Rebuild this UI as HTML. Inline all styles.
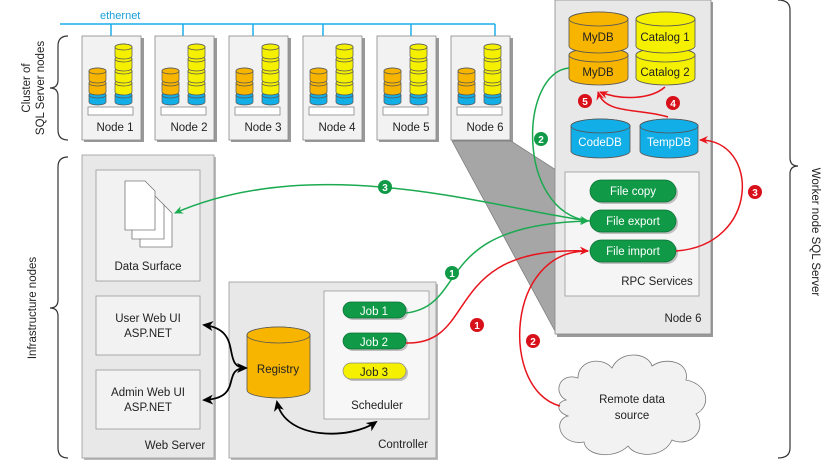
<!DOCTYPE html>
<html><head><meta charset="utf-8"><style>
html,body{margin:0;padding:0;background:#fff;}
svg{display:block;font-family:"Liberation Sans",sans-serif;}
</style></head><body>
<svg width="830" height="475" viewBox="0 0 830 475" xmlns="http://www.w3.org/2000/svg">
<defs>
<g id="sy"><path d="M0,3 a8.5,3 0 0 1 17,0 v9 a8.5,3 0 0 1 -17,0 z" fill="#f5f000" stroke="#555" stroke-width="0.7"/><ellipse cx="8.5" cy="3" rx="8.5" ry="3" fill="#f5f000" stroke="#555" stroke-width="0.7"/></g>
<g id="so"><path d="M0,3 a8.5,3 0 0 1 17,0 v9 a8.5,3 0 0 1 -17,0 z" fill="#f7b500" stroke="#555" stroke-width="0.7"/><ellipse cx="8.5" cy="3" rx="8.5" ry="3" fill="#f7b500" stroke="#555" stroke-width="0.7"/></g>
<g id="sb"><path d="M0,3 a8.5,3 0 0 1 17,0 v7 a8.5,3 0 0 1 -17,0 z" fill="#12aee8" stroke="#555" stroke-width="0.7"/><ellipse cx="8.5" cy="3" rx="8.5" ry="3" fill="#12aee8" stroke="#555" stroke-width="0.7"/></g>
<g id="nd">
<rect x="2" y="2" width="60" height="104" fill="#999"/>
<rect x="0" y="0" width="59" height="104" fill="#f2f2f2" stroke="#888" stroke-width="0.8"/>
<use href="#sb" x="33" y="56"/><use href="#sy" x="33" y="44"/><use href="#sy" x="33" y="32"/><use href="#sy" x="33" y="20"/><use href="#sy" x="33" y="8"/>
<use href="#sb" x="7" y="56"/><use href="#so" x="7" y="44"/><use href="#so" x="7" y="32"/>
<rect x="6" y="71" width="45" height="8" fill="#fff" stroke="#888" stroke-width="0.8"/>
</g>
<marker id="ag" markerWidth="10" markerHeight="10" refX="8" refY="5" orient="auto" markerUnits="userSpaceOnUse"><path d="M0,1 L9,5 L0,9 L3,5z" fill="#1aaa50"/></marker>
<marker id="ar" markerWidth="10" markerHeight="10" refX="8" refY="5" orient="auto" markerUnits="userSpaceOnUse"><path d="M0,1 L9,5 L0,9 L3,5z" fill="#e8141c"/></marker>
<marker id="ak" markerWidth="12" markerHeight="12" refX="9" refY="6" orient="auto-start-reverse" markerUnits="userSpaceOnUse"><path d="M0,1 L11,6 L0,11 L3,6z" fill="#000"/></marker>
</defs>

<!-- ethernet -->
<text x="100" y="19" font-size="11" fill="#1aa0dc">ethernet</text>
<path d="M60,24 H495 M111,24 V36 M183,24 V36 M253,24 V36 M323,24 V36 M411,24 V36 M495,24 V36" stroke="#1aaee8" stroke-width="1.5" fill="none"/>

<use href="#nd" x="82" y="36"/><use href="#nd" x="155" y="36"/><use href="#nd" x="229" y="36"/>
<use href="#nd" x="303" y="36"/><use href="#nd" x="377" y="36"/><use href="#nd" x="451" y="36"/>
<g font-size="11.5" fill="#222" text-anchor="middle">
<text x="115" y="131">Node 1</text><text x="189" y="131">Node 2</text><text x="263" y="131">Node 3</text>
<text x="337" y="131">Node 4</text><text x="411" y="131">Node 5</text><text x="485" y="131">Node 6</text>
</g>

<!-- projection -->
<polygon points="452,141 511,141 556,170 556,333" fill="#a6a6a6" stroke="#777" stroke-width="0.7"/>

<!-- braces -->
<path d="M68,36 Q58,36 58,46 V80 Q58,88 50,88 Q58,88 58,96 V130 Q58,140 68,140" fill="none" stroke="#333" stroke-width="1.2"/>
<path d="M68,157 Q58,157 58,167 V300 Q58,308 50,308 Q58,308 58,316 V448 Q58,458 68,458" fill="none" stroke="#333" stroke-width="1.2"/>
<path d="M778,0 Q790,0 790,10 V158 Q790,166 798,166 Q790,166 790,174 V448 Q790,458 778,458" fill="none" stroke="#333" stroke-width="1.2"/>
<g font-size="11.5" fill="#222" text-anchor="middle">
<text transform="translate(30,88) rotate(-90)">Cluster of</text>
<text transform="translate(44,88) rotate(-90)">SQL Server nodes</text>
<text transform="translate(36,308) rotate(-90)">Infrastructure nodes</text>
<text transform="translate(812,232) rotate(90)">Worker node SQL Server</text>
</g>

<!-- Web server -->
<rect x="84" y="157" width="132" height="303" fill="#bbb"/>
<rect x="82" y="155" width="132" height="303" fill="#e8e8e8" stroke="#999" stroke-width="0.8"/>
<rect x="96" y="170" width="104" height="111" fill="#f2f2f2" stroke="#999" stroke-width="0.8"/>
<rect x="96" y="296" width="104" height="59" fill="#f2f2f2" stroke="#999" stroke-width="0.8"/>
<rect x="96" y="370" width="104" height="59" fill="#f2f2f2" stroke="#999" stroke-width="0.8"/>
<g fill="#fff" stroke="#777" stroke-width="0.8">
<path d="M140,203 h22 l10,10 v34 h-32z"/>
<path d="M132,195 h22 l10,10 v34 h-32z"/>
<path d="M125,181 h20 l10,10 v39 h-30z"/>
</g>
<g font-size="11.5" fill="#222" text-anchor="middle">
<text x="148" y="270">Data Surface</text>
<text x="148" y="322">User Web UI</text><text x="148" y="337">ASP.NET</text>
<text x="148" y="396">Admin Web UI</text><text x="148" y="411">ASP.NET</text>
<text x="175" y="449">Web Server</text>
</g>

<!-- Controller -->
<rect x="231" y="284" width="207" height="176" fill="#bbb"/>
<rect x="229" y="282" width="207" height="176" fill="#e8e8e8" stroke="#999" stroke-width="0.8"/>
<rect x="324" y="291" width="105" height="128" fill="#f7f7f7" stroke="#999" stroke-width="0.8"/>
<path d="M247,335 a31.5,8 0 0 1 63,0 v55 a31.5,8 0 0 1 -63,0z" fill="#f7b500" stroke="#555" stroke-width="0.8"/>
<ellipse cx="278.5" cy="335" rx="31.5" ry="8" fill="#f7b500" stroke="#555" stroke-width="0.8"/>
<rect x="345" y="304" width="63" height="16" rx="8" fill="#888" opacity="0.5"/>
<rect x="343" y="302" width="63" height="16" rx="8" fill="#109a48" stroke="#0a7034" stroke-width="0.7"/>
<rect x="345" y="335" width="63" height="16" rx="8" fill="#888" opacity="0.5"/>
<rect x="343" y="333" width="63" height="16" rx="8" fill="#109a48" stroke="#0a7034" stroke-width="0.7"/>
<rect x="345" y="365" width="63" height="16" rx="8" fill="#888" opacity="0.5"/>
<rect x="343" y="363" width="63" height="16" rx="8" fill="#f5f000" stroke="#888" stroke-width="0.7"/>
<g font-size="11.5" text-anchor="middle">
<text x="278" y="373" fill="#222">Registry</text>
<text x="374" y="315" fill="#fff">Job 1</text>
<text x="374" y="346" fill="#fff">Job 2</text>
<text x="374" y="376" fill="#222">Job 3</text>
<text x="377" y="409" fill="#222">Scheduler</text>
<text x="403" y="448" fill="#222">Controller</text>
</g>

<!-- Node 6 big -->
<rect x="557" y="2" width="156" height="335" fill="#999"/>
<rect x="555" y="0" width="156" height="334" fill="#e8e8e8" stroke="#888" stroke-width="0.8"/>
<g stroke="#555" stroke-width="0.8">
<path d="M569,55 a29.5,7 0 0 1 59,0 v23 a29.5,7 0 0 1 -59,0z" fill="#f7b500"/>
<ellipse cx="598.5" cy="55" rx="29.5" ry="7" fill="#f7b500"/>
<path d="M569,19 a29.5,7 0 0 1 59,0 v27 a29.5,7 0 0 1 -59,0z" fill="#f7b500"/>
<ellipse cx="598.5" cy="19" rx="29.5" ry="7" fill="#f7b500"/>
<path d="M636,55 a29.5,7 0 0 1 59,0 v23 a29.5,7 0 0 1 -59,0z" fill="#f5f000"/>
<ellipse cx="665.5" cy="55" rx="29.5" ry="7" fill="#f5f000"/>
<path d="M636,19 a29.5,7 0 0 1 59,0 v27 a29.5,7 0 0 1 -59,0z" fill="#f5f000"/>
<ellipse cx="665.5" cy="19" rx="29.5" ry="7" fill="#f5f000"/>
<path d="M571,126 a29.5,7 0 0 1 59,0 v25 a29.5,7 0 0 1 -59,0z" fill="#12aee8"/>
<ellipse cx="600.5" cy="126" rx="29.5" ry="7" fill="#12aee8"/>
<path d="M640,126 a29,7 0 0 1 58,0 v25 a29,7 0 0 1 -58,0z" fill="#12aee8"/>
<ellipse cx="669" cy="126" rx="29" ry="7" fill="#12aee8"/>
</g>
<rect x="565" y="172" width="134" height="124" fill="#f5f5f5" stroke="#999" stroke-width="0.8"/>
<g>
<rect x="592" y="182" width="86" height="22" rx="11" fill="#888" opacity="0.5"/>
<rect x="590" y="180" width="86" height="22" rx="11" fill="#109a48" stroke="#0a7034" stroke-width="0.7"/>
<rect x="592" y="212" width="86" height="22" rx="11" fill="#888" opacity="0.5"/>
<rect x="590" y="210" width="86" height="22" rx="11" fill="#109a48" stroke="#0a7034" stroke-width="0.7"/>
<rect x="592" y="242" width="86" height="22" rx="11" fill="#888" opacity="0.5"/>
<rect x="590" y="240" width="86" height="22" rx="11" fill="#109a48" stroke="#0a7034" stroke-width="0.7"/>
</g>
<g font-size="11.5" text-anchor="middle">
<text x="598" y="41" fill="#222">MyDB</text><text x="598" y="76" fill="#222">MyDB</text>
<text x="665" y="41" fill="#222">Catalog 1</text><text x="665" y="76" fill="#222">Catalog 2</text>
<text x="600" y="146" fill="#fff">CodeDB</text><text x="669" y="146" fill="#fff">TempDB</text>
<text x="633" y="195" fill="#fff">File copy</text>
<text x="633" y="225" fill="#fff">File export</text>
<text x="633" y="255" fill="#fff">File import</text>
<text x="657" y="285" fill="#222">RPC Services</text>
<text x="683" y="322" fill="#222">Node 6</text>
</g>

<!-- cloud -->
<path d="M566,400 C552,392 560,372 578,378 C578,360 602,356 612,368 C620,350 648,352 652,366 C666,356 690,362 686,380 C708,384 712,406 696,414 C708,430 690,448 672,440 C664,458 636,458 628,446 C614,460 586,456 584,442 C560,446 552,420 568,416 C556,412 556,402 566,400z" fill="#f2f2f2" stroke="#777" stroke-width="0.8"/>
<g font-size="11.5" fill="#222" text-anchor="middle"><text x="632" y="403">Remote data</text><text x="632" y="419">source</text></g>

<!-- green arrows -->
<g fill="none" stroke="#1aaa50" stroke-width="1.5">
<path d="M590,221 C500,210 320,150 175,213" marker-end="url(#ag)"/>
<path d="M569,68 C520,72 515,210 588,221" marker-end="url(#ag)"/>
<path d="M406,313 C470,305 430,225 588,221" marker-end="url(#ag)"/>
</g>
<!-- red arrows -->
<g fill="none" stroke="#e8141c" stroke-width="1.5">
<path d="M406,343 C480,345 440,245 588,251" marker-end="url(#ar)"/>
<path d="M560,406 C500,390 505,250 588,251" marker-end="url(#ar)"/>
<path d="M676,251 C760,245 760,140 700,140" marker-end="url(#ar)"/>
<path d="M665,87 C650,100 620,100 600,92" marker-end="url(#ar)"/>
<path d="M668,117 C640,108 605,115 598,92" marker-end="url(#ar)"/>
</g>
<!-- black arrows -->
<g fill="none" stroke="#000" stroke-width="1.8">
<path d="M204,325 C245,330 220,368 246,368" marker-start="url(#ak)" marker-end="url(#ak)"/>
<path d="M204,400 C245,398 220,368 246,368" marker-start="url(#ak)"/>
<path d="M277,402 C285,440 350,440 376,422" marker-start="url(#ak)" marker-end="url(#ak)"/>
</g>

<!-- badges -->
<g font-size="10" font-weight="bold" fill="#fff" text-anchor="middle">
<circle cx="385" cy="187" r="7" fill="#109a48"/><text x="385" y="191">3</text>
<circle cx="541" cy="139" r="7" fill="#109a48"/><text x="541" y="143">2</text>
<circle cx="452" cy="273" r="7" fill="#109a48"/><text x="452" y="277">1</text>
<circle cx="477" cy="325" r="7" fill="#d8101a"/><text x="477" y="329">1</text>
<circle cx="533" cy="341" r="7" fill="#d8101a"/><text x="533" y="345">2</text>
<circle cx="755" cy="192" r="7" fill="#d8101a"/><text x="755" y="196">3</text>
<circle cx="673" cy="103" r="7" fill="#d8101a"/><text x="673" y="107">4</text>
<circle cx="585" cy="101" r="7" fill="#d8101a"/><text x="585" y="105">5</text>
</g>
</svg>
</body></html>
